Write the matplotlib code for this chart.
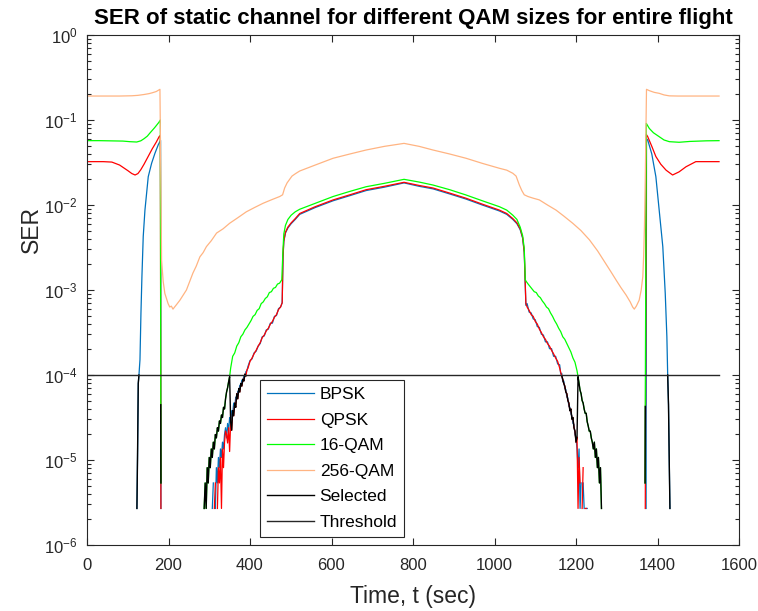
import numpy as np
import matplotlib
matplotlib.use("Agg")
import matplotlib.pyplot as plt

plt.rcParams['font.family'] = ['Liberation Sans', 'DejaVu Sans']
plt.rcParams['mathtext.fontset'] = 'custom'
plt.rcParams['mathtext.rm'] = 'Liberation Sans'
plt.rcParams['mathtext.it'] = 'Liberation Sans:italic'

# ---------------- data (time in s, SER given as log10 exponent, nan = zero SER) -------------
nan = np.nan

bpsk_t = [120, 122.5, 124, 125.8, 127.5, 130, 132.4, 134.8, 138, 142.2, 146.3, 150.3, 158.5, 166.7, 175, 179, 180.5, 181.4, 183,
          300, 302.5, 305, 307.5, 310, 312.5, 315, 317.5, 320, 322.5, 325, 327.5, 330, 332.5, 335, 337.5, 340, 342.5, 345,
          347.5, 350, 352.5, 355, 357.5, 360, 362.5, 365, 367.5, 370, 372.5, 375, 377.5, 380, 382.5, 385, 387.5, 390, 392.5,
          395, 400, 405, 410, 415, 420, 425, 430, 435, 440, 445, 450, 455, 460, 465, 470, 475, 479, 481, 483, 487, 493, 501,
          511, 522, 560, 604, 645, 685, 730, 778, 815, 849, 890, 930, 970, 1012, 1030, 1045, 1055, 1063, 1069, 1073, 1075,
          1077, 1080, 1085, 1090, 1095, 1100, 1105, 1110, 1115, 1120, 1125, 1130, 1135, 1140, 1145, 1150, 1155, 1160, 1162.5,
          1165, 1167.5, 1170, 1172.5, 1175, 1177.5, 1180, 1182.5, 1185, 1187.5, 1190, 1192.5, 1195, 1197.5, 1200, 1202.5,
          1205, 1207.5, 1210, 1212.5, 1215, 1217.5, 1220, 1222.5, 1225, 1227.5, 1230, 1232.5, 1235, 1237.5, 1240,
          1370, 1372, 1373, 1376, 1386, 1396, 1404, 1413, 1419, 1423, 1425, 1427, 1429, 1430.5, 1432]
bpsk_log = [nan, -5.57, -4.96, -4.10, -4.00, -3.82, -3.27, -2.84, -2.37, -2.06, -1.86, -1.667, -1.51, -1.392, -1.29, -1.255, -1.24, -5.57, nan,
            nan, -5.57, nan, -5.57, -5.27, nan, -5.57, -5.09, -5.27, -4.97, -5.09, -4.87, -4.97, -4.79, -4.87, -4.70, -4.62, -4.74, -4.57,
            -4.66, -4.50, -4.57, -4.42, -4.45, -4.33, -4.38, -4.26, -4.28, -4.19, -4.20, -4.12, -4.13, -4.06, -4.08, -4.01, -4.02, -3.96, -3.95,
            -3.90, -3.83, -3.81, -3.74, -3.72, -3.66, -3.63, -3.55, -3.54, -3.47, -3.46, -3.39, -3.39, -3.31, -3.30, -3.22, -3.20, -3.15, -2.62, -2.43, -2.33, -2.27, -2.22,
            -2.17, -2.11, -2.03, -1.95, -1.89, -1.83, -1.79, -1.74, -1.78, -1.81, -1.87, -1.93, -2.00, -2.07, -2.11, -2.17, -2.22, -2.29, -2.39, -2.56, -2.86,
            -3.18, -3.16, -3.26, -3.27, -3.34, -3.35, -3.43, -3.44, -3.52, -3.53, -3.61, -3.61, -3.69, -3.69, -3.78, -3.78, -3.87, -3.88, -3.99,
            -3.98, -4.08, -4.07, -4.16, -4.17, -4.26, -4.27, -4.37, -4.38, -4.46, -4.48, -4.57, -4.58, -4.70, -4.74, -4.87,
            -5.09, -4.87, -5.57, -5.27, nan, -5.27, -5.57, nan, -5.57, -5.57, nan, -5.57, nan, -5.57, nan,
            nan, -5.57, -1.22, -1.235, -1.40, -1.667, -2.06, -2.49, -3.04, -3.55, -4.00, -4.35, -5.08, -5.57, nan]

qpsk_t = [0, 20, 40, 61, 80, 100, 110, 118, 125, 132, 140, 150, 160, 170, 177, 180, 181.4, 183,
          305, 307.5, 310, 312.5, 315, 317.5, 320, 322.5, 325, 327.5, 330, 332.5, 335, 337.5, 340, 342.5, 345, 347.5, 350,
          352.5, 355, 357.5, 360, 362.5, 365, 367.5, 370, 372.5, 375, 377.5, 380, 382.5, 385, 387.5, 390, 392.5, 395, 400,
          405, 410, 415, 420, 425, 430, 435, 440, 445, 450, 455, 460, 465, 470, 475, 479, 481, 483, 487, 493, 501, 511, 522,
          560, 604, 645, 685, 730, 778, 815, 849, 890, 930, 970, 1012, 1030, 1045, 1055, 1063, 1069, 1073, 1075, 1077, 1080,
          1085, 1090, 1095, 1100, 1105, 1110, 1115, 1120, 1125, 1130, 1135, 1140, 1145, 1150, 1155, 1160, 1162.5, 1165,
          1167.5, 1170, 1172.5, 1175, 1177.5, 1180, 1182.5, 1185, 1187.5, 1190, 1192.5, 1195, 1197.5, 1200, 1202.5, 1205,
          1207.5, 1210, 1212.5, 1215, 1217.5, 1220, 1222.5, 1225, 1227.5, 1230, 1232.5,
          1369.5, 1370, 1372.5, 1376, 1386, 1396, 1408, 1421, 1437, 1453, 1470, 1494, 1520, 1551]
qpsk_log = [-1.49, -1.49, -1.49, -1.495, -1.53, -1.595, -1.63, -1.647, -1.63, -1.585, -1.52, -1.43, -1.34, -1.26, -1.196, -1.18, -5.57, nan,
            nan, -5.57, nan, -5.57, -5.27, nan, -5.57, -5.09, -5.27, -4.97, -5.57, -4.87, -5.09, -4.79, -4.66, -4.70, -4.80, -4.62, -4.90,
            -4.55, -4.65, -4.42, -4.48, -4.33, -4.38, -4.22, -4.28, -4.16, -4.20, -4.10, -4.13, -4.05, -4.07, -3.99, -4.01, -3.94, -3.92, -3.84,
            -3.80, -3.75, -3.71, -3.66, -3.62, -3.56, -3.53, -3.48, -3.45, -3.40, -3.37, -3.32, -3.29, -3.23, -3.20, -3.15, -2.60, -2.42, -2.32, -2.26, -2.21, -2.16, -2.10,
            -2.02, -1.94, -1.88, -1.82, -1.78, -1.733, -1.77, -1.80, -1.86, -1.92, -1.99, -2.06, -2.10, -2.16, -2.21, -2.28, -2.38, -2.55, -2.85, -3.16, -3.20,
            -3.24, -3.29, -3.31, -3.37, -3.40, -3.46, -3.50, -3.55, -3.58, -3.63, -3.66, -3.71, -3.75, -3.80, -3.84, -3.92, -3.97, -4.01,
            -4.05, -4.10, -4.13, -4.20, -4.22, -4.30, -4.33, -4.42, -4.40, -4.52, -4.50, -4.62, -4.66, -4.79, -4.73, -5.57,
            -4.97, -5.27, nan, -5.57, -5.09, nan, -5.57, -5.57, nan, -5.57, nan,
            nan, -5.57, -1.17, -1.196, -1.31, -1.43, -1.52, -1.59, -1.647, -1.61, -1.55, -1.49, -1.49, -1.49]

qam16_t = [0, 30, 60, 88, 105, 122, 132, 140, 148, 155, 166, 176, 180, 181, 181.4, 183,
           275, 277.5, 280, 282.5, 285, 287.5, 290, 292.5, 295, 297.5, 300, 302.5, 305, 307.5, 310, 312.5, 315, 317.5, 320,
           322.5, 325, 327.5, 330, 332.5, 335, 337.5, 340, 342.5, 345, 347.5, 350, 352.5, 357.5, 362.5, 367.5, 372.5, 377.5,
           382.5, 387.5, 392.5, 397.5, 402.5, 407.5, 412.5, 417.5, 422.5, 427.5, 432.5, 437.5, 442.5, 447.5, 452.5, 457.5,
           462.5, 467.5, 472.5, 478, 481, 483, 487, 493, 501, 511, 522, 560, 604, 645, 685, 730, 778, 815, 849, 890, 930, 970,
           1012, 1030, 1045, 1055, 1063, 1069, 1073, 1075.5, 1078, 1082.5, 1087.5, 1092.5, 1097.5, 1102.5, 1107.5, 1112.5,
           1117.5, 1122.5, 1127.5, 1132.5, 1137.5, 1142.5, 1147.5, 1152.5, 1157.5, 1162.5, 1167.5, 1172.5, 1177.5, 1182.5,
           1187.5, 1192.5, 1197.5, 1202.5, 1205, 1207.5, 1210, 1212.5, 1215, 1217.5, 1220, 1222.5, 1225, 1227.5, 1230,
           1232.5, 1235, 1237.5, 1240, 1242.5, 1245, 1247.5, 1250, 1252.5, 1255, 1257.5, 1260, 1262.5, 1265, 1267.5, 1270,
           1272.5, 1275,
           1369, 1369.5, 1370, 1372.5, 1380, 1390, 1404, 1416, 1429, 1453, 1480, 1520, 1551]
qam16_log = [-1.243, -1.243, -1.245, -1.248, -1.255, -1.259, -1.245, -1.22, -1.19, -1.15, -1.09, -1.03, -1.00, -4.35, -5.27, nan,
             nan, -5.57, nan, -5.57, nan, -5.57, -5.27, -5.57, -5.09, -5.27, -4.97, -5.09, -4.87, -4.97, -4.79, -4.87, -4.70, -4.74, -4.62,
             -4.66, -4.54, -4.57, -4.47, -4.50, -4.38, -4.40, -4.28, -4.20, -4.15, -4.08, -4.02, -3.92, -3.78, -3.74, -3.66, -3.62, -3.55,
             -3.52, -3.47, -3.44, -3.40, -3.36, -3.31, -3.29, -3.24, -3.22, -3.16, -3.14, -3.10, -3.08, -3.03, -3.02, -2.98,
             -2.97, -2.93, -2.92, -2.88, -2.52, -2.34, -2.24, -2.17, -2.12, -2.08, -2.05, -1.98, -1.90, -1.84, -1.785, -1.745, -1.698, -1.73, -1.765, -1.82, -1.882, -1.95,
             -2.02, -2.06, -2.12, -2.17, -2.26, -2.36, -2.51, -2.88, -2.90, -2.93, -2.96, -2.99, -3.02, -3.03, -3.07, -3.09,
             -3.13, -3.16, -3.20, -3.22, -3.27, -3.31, -3.36, -3.40, -3.45, -3.49, -3.55, -3.58, -3.63, -3.68,
             -3.73, -3.80, -3.85, -3.95, -4.02, -4.10, -4.18, -4.22, -4.30, -4.33, -4.40, -4.45, -4.45, -4.55, -4.60,
             -4.66, -4.66, -4.74, -4.79, -4.87, -4.79, -4.97, -4.87, -5.09, -4.97, -5.27, -5.09, -5.57, nan, -5.57, nan,
             -5.57, nan,
             nan, -5.27, -4.37, -1.04, -1.10, -1.15, -1.196, -1.235, -1.255, -1.262, -1.252, -1.245, -1.243]

qam256_t = [0, 40, 80, 110, 125, 140, 152, 160, 170, 179, 181, 183, 187, 191, 195, 199, 203, 207, 211, 215, 220, 228, 236,
            244, 252, 260, 268, 277, 285, 293, 305, 318, 334, 350, 370, 391, 411, 432, 452, 473, 480, 485, 491, 497, 503, 512,
            522, 560, 604, 645, 685, 730, 778, 815, 849, 890, 930, 970, 1012, 1030, 1045, 1053, 1061, 1067, 1073, 1082, 1095,
            1110, 1130, 1151, 1170, 1192, 1212, 1233, 1253, 1273, 1285, 1298, 1310, 1323, 1333, 1339, 1343, 1348, 1355, 1360,
            1364, 1366, 1368, 1370, 1373, 1380, 1392, 1404, 1416, 1429, 1450, 1500, 1551]
qam256_log = [-0.718, -0.718, -0.718, -0.715, -0.71, -0.70, -0.69, -0.68, -0.665, -0.639, -1.6, -2.65, -2.90, -3.04, -3.10, -3.16, -3.20, -3.19, -3.225, -3.20, -3.17, -3.12, -3.06,
              -3.00, -2.90, -2.80, -2.72, -2.61, -2.56, -2.49, -2.42, -2.33, -2.28, -2.215, -2.15, -2.08, -2.03, -1.98, -1.94, -1.90, -1.88, -1.80, -1.74, -1.70, -1.66, -1.63,
              -1.60, -1.53, -1.45, -1.40, -1.353, -1.31, -1.275, -1.31, -1.353, -1.40, -1.45, -1.51, -1.568, -1.59, -1.627, -1.66, -1.765, -1.83, -1.88, -1.90, -1.92,
              -1.94, -2.00, -2.06, -2.13, -2.215, -2.30, -2.41, -2.54, -2.69, -2.78, -2.88, -2.97, -3.06, -3.14, -3.20, -3.225, -3.19, -3.12, -3.00,
              -2.84, -2.60, -2.255, -1.70, -0.639, -0.655, -0.675, -0.686, -0.705, -0.716, -0.718, -0.718, -0.718]

# "Selected" trace: pieces of the modulation in use while its SER is below the threshold
selected_groups = [
    [("BPSK", 122, 128)],
    [("16-QAM", 180.9, 181.5)],
    [("16-QAM", 287, 351), ("QPSK", 352, 391)],
    [("QPSK", 1164, 1203.5), ("16-QAM", 1204, 1263)],
    [("16-QAM", 1369.4, 1370.1)],
    [("BPSK", 1424.5, 1431)],
]

threshold = 1e-4
flight_end = 1551

labels = ["BPSK", "QPSK", "16-QAM", "256-QAM", "Selected", "Threshold"]
colors = ["#0072BD", "#FF0000", "#00FF00", "#FFB482", "#000000", "#262626"]

# ---------------------------------------------------------------------------
series = {
    "BPSK": (np.array(bpsk_t, float), 10.0 ** np.array(bpsk_log, float)),
    "QPSK": (np.array(qpsk_t, float), 10.0 ** np.array(qpsk_log, float)),
    "16-QAM": (np.array(qam16_t, float), 10.0 ** np.array(qam16_log, float)),
    "256-QAM": (np.array(qam256_t, float), 10.0 ** np.array(qam256_log, float)),
}

sel_t, sel_v = [], []
for group in selected_groups:
    for name, a, b in group:
        t, v = series[name]
        m = (t >= a) & (t <= b)
        sel_t.extend(t[m]); sel_v.extend(v[m])
    sel_t.append(np.nan); sel_v.append(np.nan)

fig = plt.figure(figsize=(7.58, 6.11), dpi=100)
ax = fig.add_axes([87/758, 1-545/611, (739-87)/758, (545-35)/611])

lw = 0.9
for name, c in zip(labels[:4], colors[:4]):
    t, v = series[name]
    ax.plot(t, v, color=c, lw=lw, label=name)
ax.plot(sel_t, sel_v, color=colors[4], lw=1.0, label=labels[4])
ax.plot([0, flight_end], [threshold, threshold], color=colors[5], lw=1.0, label=labels[5])

ax.set_yscale('log')
ax.set_xlim(0, 1600)
ax.set_ylim(1e-6, 1e0)
ax.set_xticks(np.arange(0, 1601, 200))
ax.set_yticks([1e-6, 1e-5, 1e-4, 1e-3, 1e-2, 1e-1, 1e0])

dark = '#262626'
for s in ax.spines.values():
    s.set_color(dark)
    s.set_linewidth(0.8)
ax.tick_params(which='both', direction='in', top=True, right=True, colors=dark,
               labelsize=12, width=0.8)
ax.tick_params(which='major', length=5, pad=7)
ax.tick_params(axis='x', which='major', pad=9)
ax.tick_params(which='minor', length=3)
ax.tick_params(axis='x', which='minor', bottom=False, top=False)

ax.set_title("SER of static channel for different QAM sizes for entire flight",
             fontsize=16, fontweight='bold', pad=8, color='black')
ax.set_xlabel("Time, t (sec)", fontsize=16.5, color=dark, labelpad=9)
ax.set_ylabel("SER", fontsize=16.5, color=dark)
ax.yaxis.set_label_coords(-0.068, 0.618)

leg = ax.legend(loc='lower left', bbox_to_anchor=(0.265, 0.016), fontsize=12.5,
                frameon=True, fancybox=False, edgecolor=dark, framealpha=1,
                handlelength=2.7, handletextpad=0.35, labelspacing=0.6, borderpad=0.4,
                borderaxespad=0)
leg.get_frame().set_linewidth(0.8)

fig.savefig("out.png", dpi=100)
